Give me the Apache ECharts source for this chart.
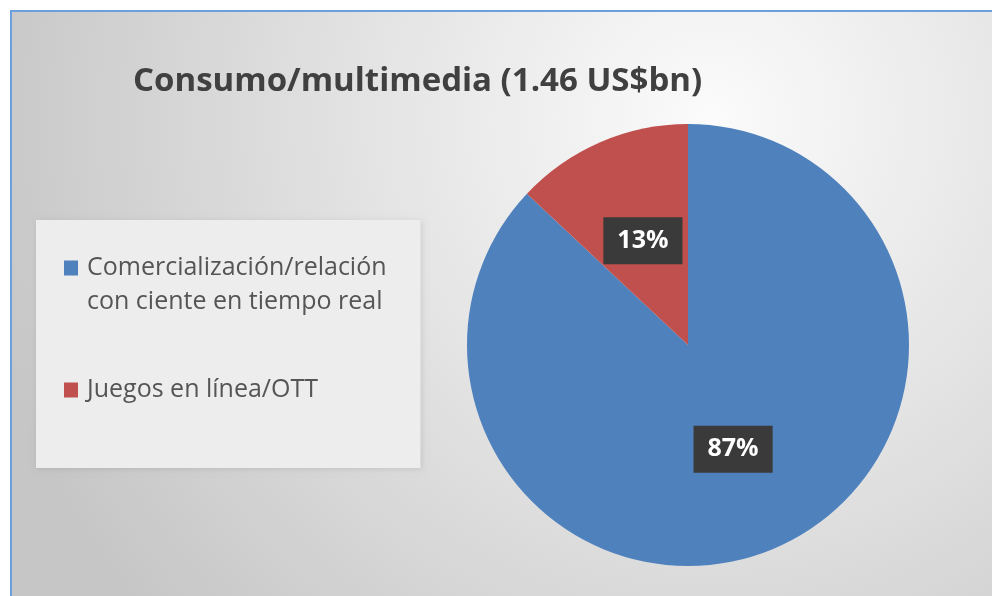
<!DOCTYPE html>
<html>
<head>
<meta charset="utf-8">
<script src="https://cdn.jsdelivr.net/npm/echarts@6/dist/echarts.min.js"></script>
<style>
  html, body { margin: 0; padding: 0; background: #ffffff; }
  #chart { width: 992px; height: 596px; }
</style>
</head>
<body>
<div id="chart"></div>
<script>
  // datos del gráfico
  var titleText = 'Consumo/multimedia (1.46 US$bn)';
  var categories = ['Comercialización/relación con ciente en tiempo real', 'Juegos en línea/OTT'];
  var values = [87, 13];
  var colors = ['#4f81bd', '#c0504d'];

  // iconos de leyenda: cuadrado alineado con la primera línea del texto
  var iconTop = 'path://M0,9.5H14V24.5H0Z M0,0L0.01,0 M18,68L18.01,68';
  var iconMid = 'path://M0,26.5H14V41.5H0Z M0,0L0.01,0 M18,68L18.01,68';

  var myChart = echarts.init(document.getElementById('chart'));
  var font = '"Open Sans", "Noto Sans", sans-serif';

  var option = {
    backgroundColor: 'transparent',
    color: colors,
    graphic: [{
      type: 'rect',
      z: -10,
      silent: true,
      shape: { x: 11, y: 11, width: 1000, height: 600 },
      style: {
        fill: {
          type: 'radial', x: 0.7, y: 0.18, r: 1.25,
          colorStops: [
            { offset: 0, color: '#fbfbfb' },
            { offset: 0.45, color: '#e4e4e4' },
            { offset: 1, color: '#c6c6c6' }
          ]
        },
        stroke: '#6d9fdc',
        lineWidth: 2
      }
    }],
    title: {
      text: titleText,
      left: 128,
      top: 60,
      textStyle: {
        fontFamily: font,
        fontSize: 33,
        fontWeight: 'bold',
        color: '#404040'
      }
    },
    legend: {
      orient: 'vertical',
      left: 36,
      top: 220,
      padding: [31, 34, 44, 28],
      itemGap: 37,
      itemWidth: 18,
      itemHeight: 68,
      backgroundColor: '#ededed',
      shadowBlur: 6,
      shadowColor: 'rgba(0,0,0,0.10)',
      shadowOffsetX: 1,
      shadowOffsetY: 1,
      itemStyle: { borderWidth: 0 },
      data: [
        { name: categories[0], icon: iconTop },
        { name: categories[1], icon: iconMid }
      ],
      formatter: function (name) {
        return name.replace('relación con', 'relación\ncon');
      },
      textStyle: {
        fontFamily: font,
        fontSize: 25,
        lineHeight: 34,
        color: '#555555'
      },
      selectedMode: false
    },
    series: [{
      type: 'pie',
      center: [688, 345],
      radius: 221,
      startAngle: 90,
      clockwise: true,
      avoidLabelOverlap: false,
      itemStyle: {
        borderWidth: 0
      },
      label: {
        show: true,
        position: 'inside',
        formatter: '{d}%',
        fontFamily: font,
        fontSize: 25,
        fontWeight: 'bold',
        color: '#ffffff',
        backgroundColor: '#3a3a3a',
        padding: [12, 14, 10, 14]
      },
      labelLine: { show: false },
      emphasis: { disabled: true },
      data: categories.map(function (c, i) {
        return { name: c, value: values[i] };
      })
    }]
  };

  myChart.setOption(option);
</script>
</body>
</html>
